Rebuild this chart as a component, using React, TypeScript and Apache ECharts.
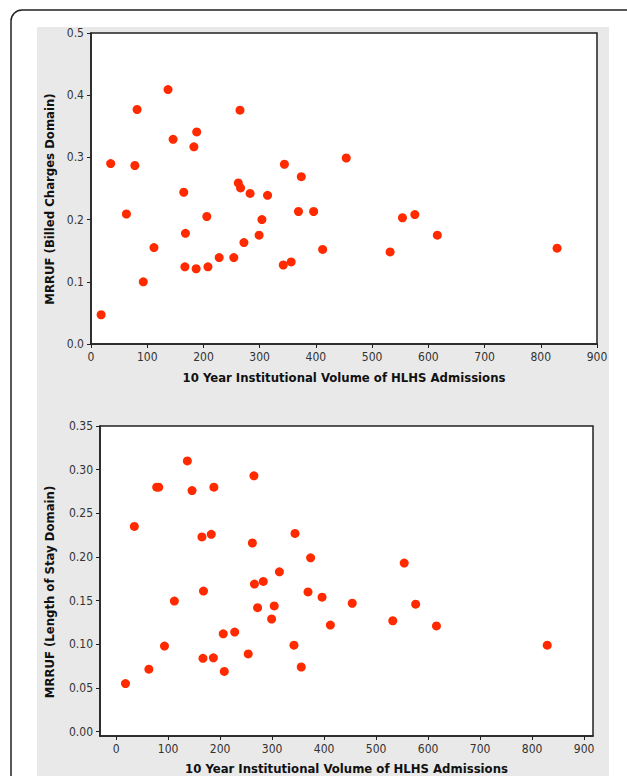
import React, { useEffect, useRef } from "react";
import * as echarts from "echarts";

// 10 year institutional volume of HLHS admissions (shared by both panels)
const volume = [
  18, 35, 63, 78, 82, 93, 112, 137, 146, 165, 167, 168, 183, 187, 188, 206, 208, 228, 254, 262,
  265, 266, 272, 283, 299, 304, 314, 342, 344, 356, 369, 374, 396, 412, 454, 532, 554, 576, 616, 829,
];
// MRRUF, billed charges domain
const billed = [
  0.047, 0.29, 0.209, 0.287, 0.377, 0.1, 0.155, 0.409, 0.329, 0.244, 0.124, 0.178, 0.317, 0.121, 0.341,
  0.205, 0.124, 0.139, 0.139, 0.259, 0.376, 0.251, 0.163, 0.242, 0.175, 0.2, 0.239, 0.127, 0.289, 0.132,
  0.213, 0.269, 0.213, 0.152, 0.299, 0.148, 0.203, 0.208, 0.175, 0.154,
];
// MRRUF, length of stay domain
const lengthOfStay = [
  0.055, 0.235, 0.0715, 0.28, 0.28, 0.098, 0.1495, 0.31, 0.276, 0.223, 0.084, 0.161, 0.226, 0.0845, 0.28,
  0.112, 0.069, 0.114, 0.089, 0.216, 0.293, 0.169, 0.142, 0.172, 0.129, 0.144, 0.183, 0.099, 0.227, 0.074,
  0.16, 0.199, 0.154, 0.122, 0.147, 0.127, 0.193, 0.146, 0.121, 0.099,
];
const xTicks = [0, 100, 200, 300, 400, 500, 600, 700, 800, 900];
const losTicks = [0, 0.05, 0.1, 0.15, 0.2, 0.25, 0.3, 0.35];
const xTitle = "10 Year Institutional Volume of HLHS Admissions";
const yTitleTop = "MRRUF (Billed Charges Domain)";
const yTitleBottom = "MRRUF (Length of Stay Domain)";

const FONT = "DejaVu Sans Condensed";
const INK = "#222";
const DOT = "#ff2a00";

export default function App() {
  const ref = useRef<HTMLDivElement>(null);
  useEffect(() => {
    if (!ref.current) return;
    const chart = echarts.init(ref.current, undefined, { renderer: "svg" });
    const labelStyle = { fontFamily: FONT, fontSize: 12, color: "#333" };
    const titleStyle = { fontFamily: FONT, fontSize: 13, fontWeight: "bold" as const, color: "#111" };
    const axisLine = { show: true, onZero: false, lineStyle: { color: INK, width: 1.5 } };
    const axisTick = { show: true, inside: false, length: 4, lineStyle: { color: INK, width: 1 } };
    chart.setOption({
      animation: false,
      backgroundColor: "#fff",
      graphic: [
        {
          type: "rect",
          z: -100,
          shape: { x: 11, y: 10, width: 700, height: 900, r: [11, 0, 0, 0] },
          style: { fill: "none", stroke: INK, lineWidth: 1.5 },
        },
        {
          type: "rect",
          z: -90,
          shape: { x: 37, y: 27, width: 572, height: 760 },
          style: { fill: "#e9e9e9" },
        },
        {
          type: "text",
          x: 49,
          y: 199,
          rotation: Math.PI / 2,
          style: {
            text: yTitleTop, fontFamily: FONT, fontSize: 13, fontWeight: "bold",
            fill: "#111", align: "center", verticalAlign: "middle",
          },
        },
        {
          type: "text",
          x: 49,
          y: 592,
          rotation: Math.PI / 2,
          style: {
            text: yTitleBottom, fontFamily: FONT, fontSize: 13, fontWeight: "bold",
            fill: "#111", align: "center", verticalAlign: "middle",
          },
        },
      ],
      grid: [
        {
          left: 91, top: 33, width: 506, height: 311,
          show: true, backgroundColor: "#fff", borderColor: INK, borderWidth: 1.5,
        },
        {
          left: 100, top: 426, width: 493, height: 311,
          show: true, backgroundColor: "#fff", borderColor: INK, borderWidth: 1.5,
        },
      ],
      xAxis: [
        {
          type: "value", gridIndex: 0, min: 0, max: 900, interval: 100,
          axisLine, axisTick, splitLine: { show: false },
          axisLabel: { ...labelStyle, margin: 7 },
          name: xTitle, nameLocation: "middle", nameGap: 27, nameTextStyle: titleStyle,
        },
        {
          type: "value", gridIndex: 1, min: -31, max: 917,
          axisLine,
          axisTick: { ...axisTick, customValues: xTicks },
          splitLine: { show: false },
          axisLabel: { ...labelStyle, margin: 7, customValues: xTicks },
          name: xTitle, nameLocation: "middle", nameGap: 26, nameTextStyle: titleStyle,
        },
      ],
      yAxis: [
        {
          type: "value", gridIndex: 0, min: 0, max: 0.5, interval: 0.1,
          axisLine, axisTick, splitLine: { show: false },
          axisLabel: { ...labelStyle, margin: 7, formatter: (v: number) => v.toFixed(1) },
        },
        {
          type: "value", gridIndex: 1, min: -0.005, max: 0.35,
          axisLine,
          axisTick: { ...axisTick, customValues: losTicks },
          splitLine: { show: false },
          axisLabel: {
            ...labelStyle, margin: 7, customValues: losTicks,
            formatter: (v: number) => v.toFixed(2),
          },
        },
      ],
      series: [
        {
          type: "scatter", xAxisIndex: 0, yAxisIndex: 0, symbolSize: 9,
          itemStyle: { color: DOT, opacity: 1 },
          data: volume.map((v, i) => [v, billed[i]]),
        },
        {
          type: "scatter", xAxisIndex: 1, yAxisIndex: 1, symbolSize: 9,
          itemStyle: { color: DOT, opacity: 1 },
          data: volume.map((v, i) => [v, lengthOfStay[i]]),
        },
      ],
    });
    return () => chart.dispose();
  }, []);
  return (
    <div
      ref={ref}
      style={{ position: "fixed", left: 0, top: 0, width: 627, height: 776 }}
    />
  );
}
